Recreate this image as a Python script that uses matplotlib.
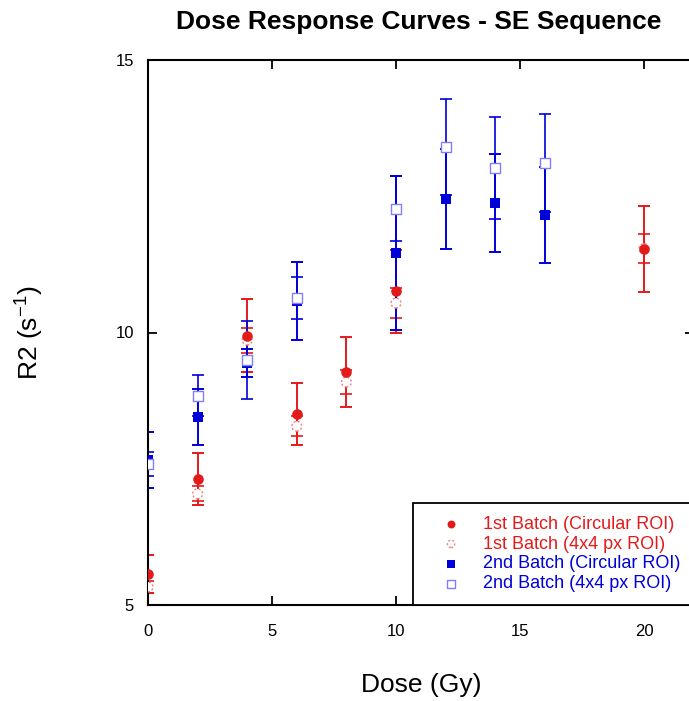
import matplotlib
matplotlib.use("Agg")
import matplotlib.pyplot as plt

plt.rcParams['font.family'] = ['Liberation Sans', 'DejaVu Sans']

# 1st batch (red)
dose_1 = [0, 2, 4, 6, 8, 10, 20]
r2_1_circ = [5.57, 7.31, 9.94, 8.50, 9.28, 10.76, 11.53]
err_1_circ = [0.35, 0.47, 0.67, 0.57, 0.64, 0.76, 0.79]
r2_1_px = [5.33, 7.04, 9.86, 8.28, 9.09, 10.54, 11.54]
err_1_px = [0.11, 0.14, 0.23, 0.18, 0.22, 0.27, 0.27]

# 2nd batch (blue)
dose_2 = [0, 2, 4, 6, 10, 12, 14, 16]
r2_2_circ = [7.66, 8.45, 9.44, 10.58, 11.46, 12.45, 12.38, 12.16]
err_2_circ = [0.51, 0.51, 0.26, 0.72, 1.41, 0.92, 0.90, 0.88]
r2_2_px = [7.58, 8.84, 9.50, 10.63, 12.27, 13.40, 13.02, 13.11]
err_2_px = [0.22, 0.38, 0.72, 0.39, 0.60, 0.88, 0.93, 0.90]

labels = ['1st Batch (Circular ROI)', '1st Batch (4x4 px ROI)',
          '2nd Batch (Circular ROI)', '2nd Batch (4x4 px ROI)']

RED = '#e41a1a'
BLUE = '#0000d8'

fig = plt.figure(figsize=(6.89, 7.01), dpi=100)
# axes runs 0..22 and is cut off at the right edge of the picture
ax = fig.add_axes([148/689, 96/701, 545.6/689, 545/701])

ax.errorbar(dose_1, r2_1_px, yerr=err_1_px, fmt='none', ecolor=RED,
            elinewidth=1.2, capsize=4, capthick=1.2, zorder=2)
ax.errorbar(dose_1, r2_1_circ, yerr=err_1_circ, fmt='none', ecolor=RED,
            elinewidth=1.4, capsize=4, capthick=1.4, zorder=2)
ax.errorbar(dose_2, r2_2_circ, yerr=err_2_circ, fmt='none', ecolor=BLUE,
            elinewidth=1.4, capsize=4, capthick=1.4, zorder=2)
ax.errorbar(dose_2, r2_2_px, yerr=err_2_px, fmt='none', ecolor=BLUE,
            elinewidth=1.2, capsize=4, capthick=1.2, zorder=2)

h_rpx = ax.scatter(dose_1, r2_1_px, s=50, marker='o', facecolor='white',
                   edgecolor='#f08080', linewidth=1.0, linestyle=(0, (1.5, 1.5)),
                   zorder=3)
h_rc = ax.scatter(dose_1, r2_1_circ, s=58, marker='o', color=RED,
                  linewidth=0, zorder=4)
h_bc = ax.scatter(dose_2, r2_2_circ, s=58, marker='s', color=BLUE,
                  linewidth=0, zorder=5)
h_bpx = ax.scatter(dose_2, r2_2_px, s=52, marker='s', facecolor='white',
                   edgecolor='#8080ff', linewidth=1.0, zorder=6)

ax.set_xlim(0, 22)
ax.set_ylim(5, 15)
ax.set_xticks([0, 5, 10, 15, 20])
ax.set_yticks([5, 10, 15])
ax.tick_params(direction='in', length=6.5, width=1.3, top=True, right=True,
               labelsize=12)
ax.tick_params(axis='x', pad=14)
ax.tick_params(axis='y', pad=10)
for s in ax.spines.values():
    s.set_linewidth(1.5)

ax.set_xlabel('Dose (Gy)', fontsize=19)
ax.xaxis.set_label_coords(0.5, -0.125)
ax.set_ylabel('R2 (s$^{\\mathregular{-1}}$)', fontsize=19)
ax.yaxis.set_label_coords(-0.188, 0.5)

fig.text(419/689, 1 - 22/701, 'Dose Response Curves - SE Sequence',
         fontsize=19, fontweight='bold', ha='center', va='center')

leg = ax.legend([h_rc, h_rpx, h_bc, h_bpx], labels, loc='lower left',
                bbox_to_anchor=(0.486, 0.0, 0.6, 0.185), mode='expand',
                borderaxespad=0, fontsize=13, frameon=True, fancybox=False,
                edgecolor='black', framealpha=1, borderpad=0.7,
                labelspacing=0.16, handlelength=2.8, handletextpad=0.35,
                scatterpoints=1, markerscale=0.75)
leg.get_frame().set_linewidth(1.3)
for t, c in zip(leg.get_texts(), [RED, RED, BLUE, BLUE]):
    t.set_color(c)

fig.savefig('out.png', dpi=100)
